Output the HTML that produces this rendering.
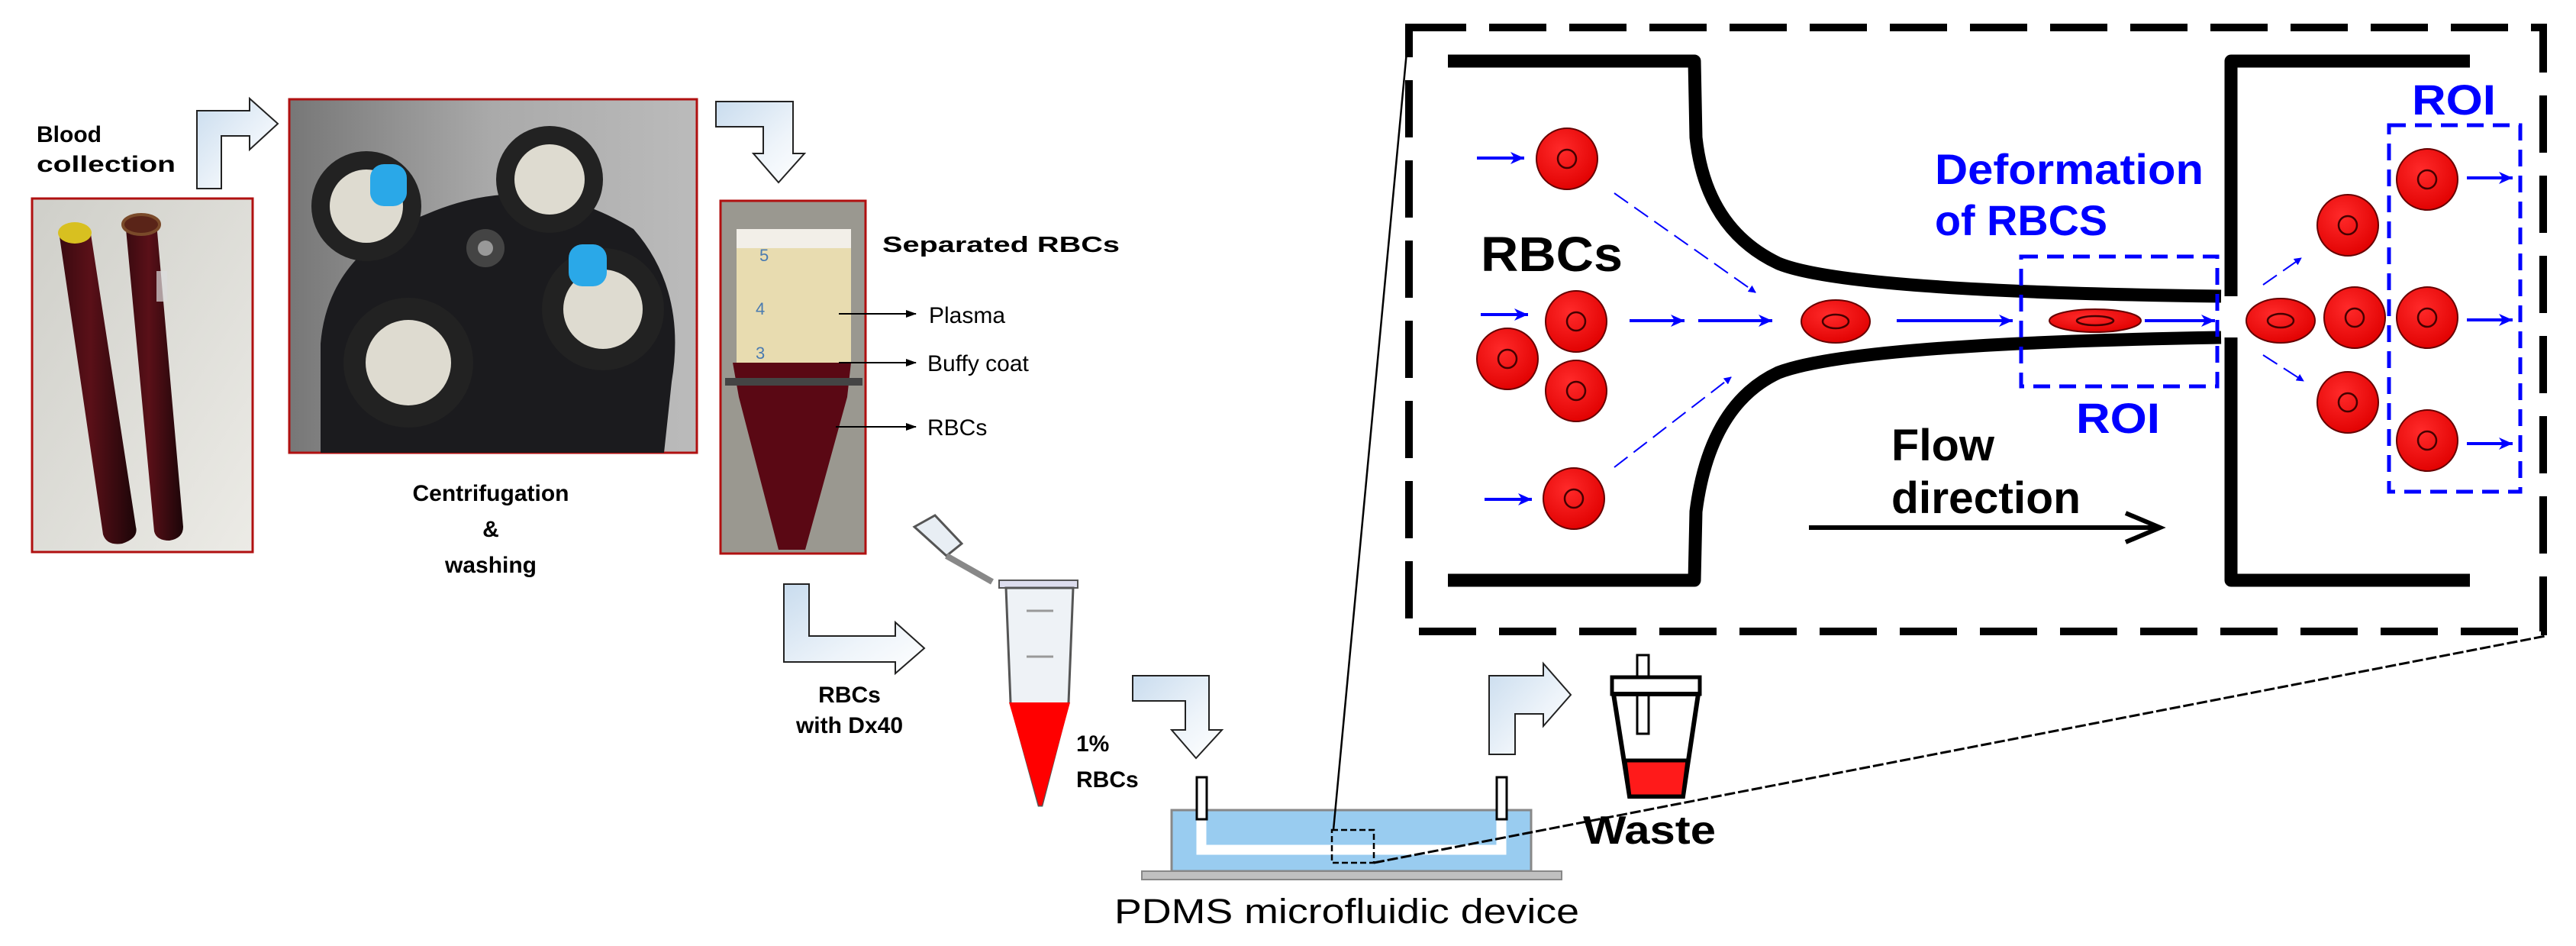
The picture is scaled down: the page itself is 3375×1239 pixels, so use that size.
<!DOCTYPE html>
<html><head><meta charset="utf-8"><style>
html,body{margin:0;padding:0;background:#fff;}
svg{display:block;}
text{font-family:"Liberation Sans",sans-serif;}
</style></head><body>
<svg width="3375" height="1239" viewBox="0 0 3375 1239" xmlns="http://www.w3.org/2000/svg">
<defs>
<linearGradient id="ag" x1="0" y1="0" x2="1" y2="1"><stop offset="0" stop-color="#c9dcee"/><stop offset="0.6" stop-color="#eef4fa"/><stop offset="1" stop-color="#ffffff"/></linearGradient>
<radialGradient id="cell" cx="0.4" cy="0.35" r="0.7"><stop offset="0" stop-color="#ff2a2a"/><stop offset="1" stop-color="#e00000"/></radialGradient>
<linearGradient id="tube" x1="0" x2="1"><stop offset="0" stop-color="#3a0a10"/><stop offset="0.4" stop-color="#5a1018"/><stop offset="1" stop-color="#1c0508"/></linearGradient>
<linearGradient id="bg1" x1="0" y1="0" x2="1" y2="1"><stop offset="0" stop-color="#cfcfc9"/><stop offset="1" stop-color="#ecebe6"/></linearGradient>
<linearGradient id="bg2" x1="0" y1="0" x2="1" y2="0"><stop offset="0" stop-color="#777"/><stop offset="0.5" stop-color="#aaa"/><stop offset="1" stop-color="#bbb"/></linearGradient>
<marker id="ba" markerWidth="10" markerHeight="10" refX="9" refY="5" orient="auto" markerUnits="userSpaceOnUse"><path d="M0,0 L10,5 L0,10 z" fill="#0000ff"/></marker>
<marker id="ba2" markerWidth="20" markerHeight="20" refX="18" refY="10" orient="auto" markerUnits="userSpaceOnUse"><path d="M0,2 L18,10 L0,18 L5,10 z" fill="#0000ff"/></marker>
<marker id="ka" markerWidth="14" markerHeight="10" refX="13" refY="5" orient="auto" markerUnits="userSpaceOnUse"><path d="M0,0 L14,5 L0,10 z" fill="#000"/></marker>
</defs>

<rect x="42" y="260" width="289" height="463" fill="url(#bg1)" stroke="#b01010" stroke-width="3"/>
<path d="M78,310 L118,300 L178,690 Q182,705 160,712 Q140,715 135,700 Z" fill="url(#tube)"/>
<ellipse cx="98" cy="305" rx="22" ry="14" fill="#d8c020"/>
<path d="M165,300 L205,292 L240,690 Q240,705 222,708 Q205,708 202,696 Z" fill="url(#tube)"/>
<ellipse cx="185" cy="294" rx="24" ry="13" fill="#5a2418" stroke="#7a4a2a" stroke-width="4"/>
<rect x="205" y="355" width="14" height="40" fill="#ddd" opacity="0.7"/>

<rect x="379" y="130" width="534" height="463" fill="url(#bg2)" stroke="#b01010" stroke-width="3"/>
<path d="M420,593 L420,450 Q430,330 560,280 Q700,220 830,300 Q900,380 880,500 L870,593 Z" fill="#1b1b1e"/>
<circle cx="480" cy="270" r="72" fill="#222"/><circle cx="480" cy="270" r="48" fill="#dedbd0"/>
<circle cx="720" cy="235" r="70" fill="#222"/><circle cx="720" cy="235" r="46" fill="#dedbd0"/>
<circle cx="535" cy="475" r="85" fill="#222"/><circle cx="535" cy="475" r="56" fill="#dedbd0"/>
<circle cx="790" cy="405" r="80" fill="#222"/><circle cx="790" cy="405" r="52" fill="#dedbd0"/>
<circle cx="636" cy="325" r="25" fill="#444"/><circle cx="636" cy="325" r="10" fill="#999"/>
<rect x="485" y="215" width="48" height="55" rx="18" fill="#2aa8e8"/>
<rect x="745" y="320" width="50" height="55" rx="18" fill="#2aa8e8"/>

<rect x="944" y="263" width="190" height="462" fill="#9a9890" stroke="#b01010" stroke-width="3"/>
<rect x="965" y="300" width="150" height="175" fill="#e8dcb0"/>
<rect x="965" y="300" width="150" height="25" fill="#f2efe8"/>
<path d="M960,475 L1115,475 L1110,520 L1055,720 L1020,720 L968,520 Z" fill="#5a0814"/>
<rect x="950" y="495" width="180" height="10" fill="#444"/>
<g fill="#4a7bb0" font-size="22"><text x="995" y="342">5</text><text x="990" y="412">4</text><text x="990" y="470">3</text></g>

<g font-weight="bold" font-size="30" fill="#000">
<text x="48" y="186">Blood</text>
<text x="48" y="225" textLength="182" lengthAdjust="spacingAndGlyphs">collection</text>
<text x="1156" y="330" textLength="311" lengthAdjust="spacingAndGlyphs" font-size="29">Separated RBCs</text>
<text x="643" y="656" text-anchor="middle">Centrifugation</text>
<text x="643" y="703" text-anchor="middle">&amp;</text>
<text x="643" y="750" text-anchor="middle">washing</text>
<text x="1113" y="920" text-anchor="middle">RBCs</text>
<text x="1113" y="960" text-anchor="middle">with Dx40</text>
<text x="1410" y="984">1%</text>
<text x="1410" y="1031">RBCs</text>
</g>
<g font-size="30" fill="#000">
<text x="1217" y="423">Plasma</text>
<text x="1215" y="486">Buffy coat</text>
<text x="1215" y="570">RBCs</text>
</g>
<g stroke="#000" stroke-width="2" marker-end="url(#ka)">
<line x1="1099" y1="411" x2="1200" y2="411"/>
<line x1="1099" y1="475" x2="1200" y2="475"/>
<line x1="1095" y1="559" x2="1200" y2="559"/>
</g>

<g fill="url(#ag)" stroke="#222" stroke-width="2">
<path d="M258,247 L258,145 L327,145 L327,129 L364,162 L327,196 L327,178 L290,178 L290,247 Z"/>
<path d="M938,133 L1039,133 L1039,201 L1054,201 L1020,239 L987,201 L1000,201 L1000,166 L938,166 Z"/>
<path d="M1027,765 L1060,765 L1060,833 L1173,833 L1173,815 L1211,849 L1173,882 L1173,867 L1027,867 Z"/>
<path d="M1484,885 L1584,885 L1584,956 L1601,956 L1567,993 L1535,956 L1553,956 L1553,918 L1484,918 Z"/>
<path d="M1951,988 L1951,885 L2022,885 L2022,869 L2058,910 L2022,951 L2022,935 L1985,935 L1985,988 Z"/>
</g>

<path d="M1198,690 L1225,675 L1260,712 L1240,728 Z" fill="#e8eef4" stroke="#555" stroke-width="3"/>
<path d="M1240,728 L1300,762" stroke="#888" stroke-width="8"/>
<rect x="1309" y="760" width="103" height="10" fill="#dde" stroke="#555" stroke-width="2"/>
<path d="M1318,770 L1406,770 L1400,920 L1365,1055 L1361,1055 L1324,920 Z" fill="#eef2f6" stroke="#555" stroke-width="3"/>
<path d="M1322,920 L1402,920 L1365,1055 L1361,1055 Z" fill="#ff0000"/>
<line x1="1345" y1="800" x2="1380" y2="800" stroke="#999" stroke-width="3"/>
<line x1="1345" y1="860" x2="1380" y2="860" stroke="#999" stroke-width="3"/>

<rect x="1535" y="1061" width="471" height="80" fill="#99ccf0" stroke="#888" stroke-width="3"/>
<rect x="1496" y="1141" width="550" height="11" fill="#c0c0c0" stroke="#888" stroke-width="2"/>
<path d="M1574,1073 L1574,1113 L1967,1113 L1967,1073" fill="none" stroke="#fff" stroke-width="13"/>
<rect x="1568" y="1018" width="13" height="55" fill="#fff" stroke="#000" stroke-width="3"/>
<rect x="1961" y="1018" width="13" height="55" fill="#fff" stroke="#000" stroke-width="3"/>
<rect x="1745" y="1087" width="55" height="43" fill="none" stroke="#000" stroke-width="2.5" stroke-dasharray="8,4"/>
<text x="1460" y="1209" font-size="45" textLength="609" lengthAdjust="spacingAndGlyphs" fill="#000">PDMS microfluidic device</text>
<line x1="1747" y1="1087" x2="1846" y2="36" stroke="#000" stroke-width="2.5"/>
<line x1="1800" y1="1130" x2="3335" y2="833" stroke="#000" stroke-width="3" stroke-dasharray="14,4"/>

<rect x="2145" y="858" width="15" height="103" fill="#fff" stroke="#000" stroke-width="3"/>
<rect x="2112" y="887" width="115" height="22" fill="#fff" stroke="#000" stroke-width="5"/>
<path d="M2114,909 L2225,909 L2205,1043 L2135,1043 Z" fill="none" stroke="#000" stroke-width="6"/>
<path d="M2129,996 L2211,996 L2205,1043 L2135,1043 Z" fill="#ff1a1a" stroke="#000" stroke-width="5"/>
<text x="2074" y="1105" font-size="52" font-weight="bold" textLength="174" lengthAdjust="spacingAndGlyphs" fill="#000">Waste</text>

<rect x="1846" y="36" width="1486" height="791" fill="#fff" stroke="#000" stroke-width="10" stroke-dasharray="75,30"/>

<g fill="none" stroke="#000" stroke-width="17" stroke-linejoin="round">
<path d="M1897,80 L2220,80 L2222,180 Q2235,300 2330,345 Q2420,382 2910,388"/>
<path d="M1897,760 L2220,760 L2222,670 Q2240,530 2330,488 Q2430,450 2910,442"/>
<path d="M3236,80 L2923,80 L2923,388"/>
<path d="M3236,760 L2923,760 L2923,442"/>
</g>

<g fill="none" stroke="#0000ff" stroke-width="5" stroke-dasharray="22,12">
<rect x="2648" y="336" width="257" height="170"/>
<rect x="3130" y="164" width="172" height="480"/>
</g>

<g fill="url(#cell)" stroke="#600" stroke-width="2">
<circle cx="2053" cy="208" r="40"/>
<circle cx="2065" cy="421" r="40"/>
<circle cx="1975" cy="470" r="40"/>
<circle cx="2065" cy="512" r="40"/>
<circle cx="2062" cy="653" r="40"/>
<circle cx="3076" cy="295" r="40"/>
<circle cx="3085" cy="416" r="40"/>
<circle cx="3076" cy="527" r="40"/>
<circle cx="3180" cy="235" r="40"/>
<circle cx="3180" cy="416" r="40"/>
<circle cx="3180" cy="577" r="40"/>
<ellipse cx="2405" cy="421" rx="45" ry="28"/>
<ellipse cx="2745" cy="420" rx="60" ry="15"/>
<ellipse cx="2988" cy="420" rx="45" ry="29"/>
</g>
<g fill="none" stroke="#400" stroke-width="2.5">
<circle cx="2053" cy="208" r="12"/><circle cx="2065" cy="421" r="12"/><circle cx="1975" cy="470" r="12"/>
<circle cx="2065" cy="512" r="12"/><circle cx="2062" cy="653" r="12"/><circle cx="3076" cy="295" r="12"/>
<circle cx="3085" cy="416" r="12"/><circle cx="3076" cy="527" r="12"/><circle cx="3180" cy="235" r="12"/>
<circle cx="3180" cy="416" r="12"/><circle cx="3180" cy="577" r="12"/>
<ellipse cx="2405" cy="421" rx="17" ry="9"/><ellipse cx="2745" cy="420" rx="24" ry="6"/><ellipse cx="2988" cy="420" rx="17" ry="9"/>
</g>

<g stroke="#0000ff" stroke-width="4" marker-end="url(#ba2)">
<line x1="1935" y1="207" x2="1997" y2="207"/>
<line x1="1940" y1="412" x2="2002" y2="412"/>
<line x1="1945" y1="654" x2="2007" y2="654"/>
<line x1="2135" y1="420" x2="2207" y2="420"/>
<line x1="2225" y1="420" x2="2322" y2="420"/>
<line x1="2485" y1="420" x2="2637" y2="420"/>
<line x1="2810" y1="420" x2="2902" y2="420"/>
<line x1="3232" y1="233" x2="3292" y2="233"/>
<line x1="3232" y1="419" x2="3292" y2="419"/>
<line x1="3232" y1="581" x2="3292" y2="581"/>
</g>
<g stroke="#0000ff" stroke-width="2" stroke-dasharray="22,10" marker-end="url(#ba)">
<line x1="2115" y1="253" x2="2300" y2="383"/>
<line x1="2115" y1="612" x2="2268" y2="494"/>
<line x1="2965" y1="373" x2="3015" y2="338"/>
<line x1="2965" y1="465" x2="3018" y2="499"/>
</g>

<line x1="2370" y1="691" x2="2828" y2="691" stroke="#000" stroke-width="6"/>
<path d="M2785,672 L2830,691 L2785,710" fill="none" stroke="#000" stroke-width="6"/>

<g font-weight="bold" font-size="64">
<text x="1940" y="355" textLength="186" lengthAdjust="spacingAndGlyphs" fill="#000">RBCs</text>
<text x="2478" y="603" font-size="58" textLength="135" lengthAdjust="spacingAndGlyphs" fill="#000">Flow</text>
<text x="2478" y="672" font-size="58" textLength="248" lengthAdjust="spacingAndGlyphs" fill="#000">direction</text>
<text x="2535" y="241" font-size="56" textLength="352" lengthAdjust="spacingAndGlyphs" fill="#0000ff">Deformation</text>
<text x="2535" y="308" font-size="56" textLength="226" lengthAdjust="spacingAndGlyphs" fill="#0000ff">of RBCS</text>
<text x="2720" y="567" font-size="56" textLength="110" lengthAdjust="spacingAndGlyphs" fill="#0000ff">ROI</text>
<text x="3160" y="150" font-size="56" textLength="110" lengthAdjust="spacingAndGlyphs" fill="#0000ff">ROI</text>
</g>
</svg>
</body></html>
